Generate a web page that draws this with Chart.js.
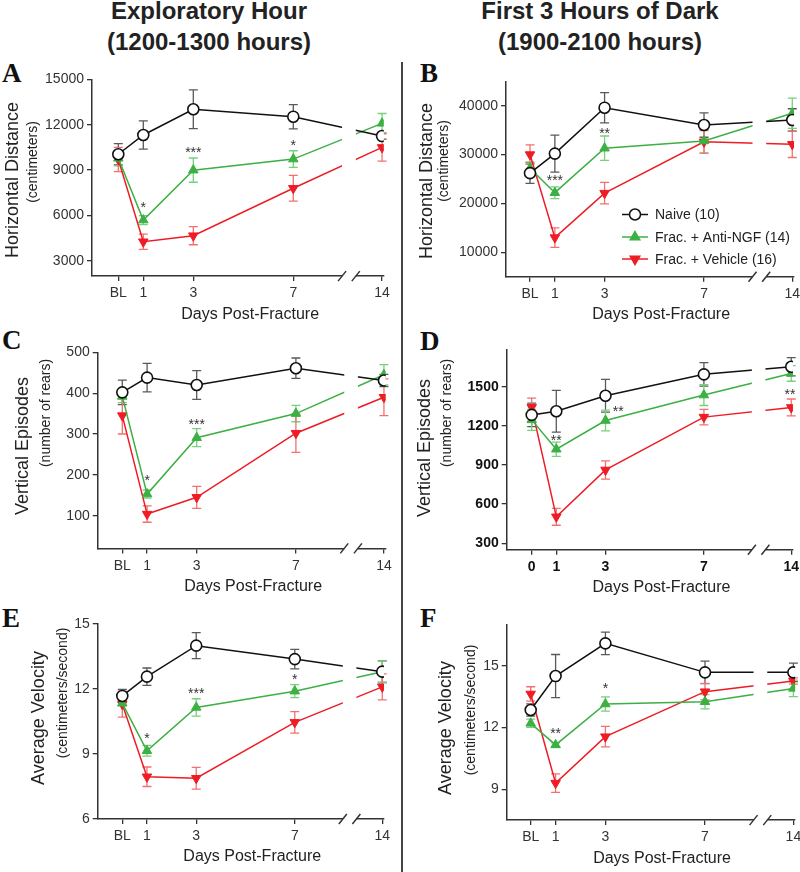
<!DOCTYPE html>
<html><head><meta charset="utf-8">
<script src="https://cdn.jsdelivr.net/npm/chart.js@4.4.1/dist/chart.umd.min.js"></script>
<style>
html,body{margin:0;padding:0;background:#fff;width:800px;height:872px;overflow:hidden;position:relative;font-family:"Liberation Sans",Arial,sans-serif;}
.hdr{position:absolute;top:-5px;width:400px;text-align:center;font-weight:bold;font-size:24px;line-height:31px;color:#222;}
.lt{position:absolute;font-family:"Liberation Serif","Times New Roman",serif;font-weight:bold;font-size:27px;line-height:27px;color:#111;}
canvas{position:absolute;}
#divider{position:absolute;left:401px;top:62px;width:1.5px;height:810px;background:#444;}
</style></head>
<body>
<div class="hdr" style="left:9px">Exploratory Hour<br>(1200-1300 hours)</div>
<div class="hdr" style="left:400px">First 3 Hours of Dark<br>(1900-2100 hours)</div>
<div id="divider"></div>
<div class="lt" style="left:2px;top:60px">A</div>
<div class="lt" style="left:420px;top:60px">B</div>
<div class="lt" style="left:2px;top:327px">C</div>
<div class="lt" style="left:420px;top:328px">D</div>
<div class="lt" style="left:2px;top:605px">E</div>
<div class="lt" style="left:420px;top:605px">F</div>
<script>
// ---------- shared x axis (days post-fracture, axis broken between 7 and 14) ----------
const X_POS = [0, 1, 3, 7, 10.55];          // 14 sits on the compressed part after the break
const X_LABELS = ['BL', '1', '3', '7', '14'];
const X_LABELS_D = ['0', '1', '3', '7', '14'];
const BREAK_FROM = 8.95, BREAK_TO = 9.5;
const SERIES_LABELS = ['Naive (10)', 'Frac. + Anti-NGF (14)', 'Frac. + Vehicle (16)'];

// ---------- A: Horizontal distance, exploratory hour ----------
const A_naive = [10050, 11320, 13020, 12530, 11250];
const A_naiveErr = [700, 930, 1280, 800, 200];
const A_anti = [9780, 5700, 9000, 9730, 12090];
const A_antiErr = [500, 300, 800, 550, 650];
const A_veh = [9700, 4270, 4670, 7800, 10500];
const A_vehErr = [800, 500, 600, 850, 900];
const A_yTicks = [3000, 6000, 9000, 12000, 15000];
const A_stars = [{x: 1, y: 6760, t: '*'}, {x: 3, y: 10394, t: '***'}, {x: 7, y: 10876, t: '*'}];

// ---------- B: Horizontal distance, first 3 h of dark ----------
const B_naive = [26200, 30200, 39600, 36050, 37080];
const B_naiveErr = [2100, 3800, 3100, 2500, 2300];
const B_anti = [27200, 22200, 31300, 32800, 38450];
const B_antiErr = [1300, 1200, 2500, 2500, 3100];
const B_veh = [30000, 13000, 22100, 32600, 32100];
const B_vehErr = [2000, 2000, 2200, 2300, 2700];
const B_yTicks = [10000, 20000, 30000, 40000];
const B_stars = [{x: 1, y: 25460, t: '***'}, {x: 3, y: 35020, t: '**'}];

// ---------- C: Vertical episodes, exploratory hour ----------
const C_naive = [402, 438, 420, 461, 431];
const C_naiveErr = [30, 35, 35, 25, 15];
const C_anti = [392, 153, 291, 350, 445];
const C_antiErr = [15, 10, 22, 20, 25];
const C_veh = [345, 104, 145, 302, 390];
const C_vehErr = [45, 20, 27, 47, 45];
const C_yTicks = [100, 200, 300, 400, 500];
const C_stars = [{x: 1, y: 195, t: '*'}, {x: 3, y: 333, t: '***'}];

// ---------- D: Vertical episodes, first 3 h of dark ----------
const D_naive = [1284, 1312, 1431, 1595, 1653];
const D_naiveErr = [90, 160, 125, 90, 70];
const D_anti = [1246, 1021, 1241, 1436, 1602];
const D_antiErr = [80, 55, 80, 80, 60];
const D_veh = [1342, 503, 862, 1267, 1341];
const D_vehErr = [70, 65, 70, 60, 65];
const D_yTicks = [300, 600, 900, 1200, 1500];
const D_stars = [{x: 1, y: 1112, t: '**'}, {x: 3.52, y: 1339, t: '**'}, {x: 10.5, y: 1467, t: '**'}];

// ---------- E: Average velocity, exploratory hour ----------
const E_naive = [11.68, 12.57, 14.0, 13.38, 12.8];
const E_naiveErr = [0.3, 0.4, 0.6, 0.45, 0.5];
const E_anti = [11.34, 9.15, 11.15, 11.9, 12.8];
const E_antiErr = [0.1, 0.25, 0.4, 0.3, 0.5];
const E_veh = [11.3, 7.95, 7.88, 10.46, 12.1];
const E_vehErr = [0.6, 0.45, 0.5, 0.5, 0.6];
const E_yTicks = [6, 9, 12, 15];
const E_stars = [{x: 1, y: 9.88, t: '*'}, {x: 3, y: 11.95, t: '***'}, {x: 7, y: 12.6, t: '*'}];

// ---------- F: Average velocity, first 3 h of dark ----------
const F_naive = [12.86, 14.51, 16.1, 14.69, 14.69];
const F_naiveErr = [0.3, 1.05, 0.55, 0.55, 0.45];
const F_anti = [12.21, 11.16, 13.15, 13.26, 13.91];
const F_antiErr = [0.2, 0.1, 0.35, 0.35, 0.4];
const F_veh = [13.64, 9.3, 11.56, 13.75, 14.27];
const F_vehErr = [0.35, 0.45, 0.5, 0.4, 0.15];
const F_yTicks = [9, 12, 15];
const F_stars = [{x: 1, y: 11.88, t: '**'}, {x: 3, y: 14.07, t: '*'}];

// ---------- styling ----------
const FONT = '"Liberation Sans", Arial, sans-serif';
const BLACK = '#111111', GREEN = '#3cb043', RED = '#ee1c24';
const ERR_BLACK = '#5a5a5a', ERR_GREEN = '#78cf7c', ERR_RED = '#f27070';
const AXIS = '#333333';

function buildDatasets(naive, naiveErr, anti, antiErr, veh, vehErr) {
  const pts = arr => X_POS.map((x, i) => ({x: x, y: arr[i]}));
  return [
    {label: SERIES_LABELS[0], data: pts(naive), errors: naiveErr, errorColor: ERR_BLACK,
     borderColor: BLACK, backgroundColor: '#ffffff', pointBorderColor: BLACK, pointBackgroundColor: '#ffffff',
     pointStyle: 'circle', pointRadius: 5.5, pointBorderWidth: 1.6, borderWidth: 1.5, order: 0},
    {label: SERIES_LABELS[1], data: pts(anti), errors: antiErr, errorColor: ERR_GREEN,
     borderColor: GREEN, backgroundColor: GREEN, pointBorderColor: GREEN, pointBackgroundColor: GREEN,
     pointStyle: 'triangle', pointRadius: 5.5, pointRotation: 0, pointBorderWidth: 1, borderWidth: 1.5, order: 1},
    {label: SERIES_LABELS[2], data: pts(veh), errors: vehErr, errorColor: ERR_RED,
     borderColor: RED, backgroundColor: RED, pointBorderColor: RED, pointBackgroundColor: RED,
     pointStyle: 'triangle', pointRadius: 5.5, pointRotation: 180, pointBorderWidth: 1, borderWidth: 1.5, order: 2}
  ];
}

function decorPlugin(cfg) {
  return {
    id: 'decor_' + cfg.id,
    beforeDatasetsDraw(chart) {
      const ctx = chart.ctx, ys = chart.scales.y;
      chart.data.datasets.forEach((ds, di) => {
        const meta = chart.getDatasetMeta(di);
        ctx.save();
        ctx.strokeStyle = ds.errorColor;
        ctx.lineWidth = 1.3;
        meta.data.forEach((el, j) => {
          const v = ds.data[j].y, e = ds.errors[j];
          const y1 = ys.getPixelForValue(v + e), y2 = ys.getPixelForValue(v - e);
          ctx.beginPath();
          ctx.moveTo(el.x, y1); ctx.lineTo(el.x, y2);
          ctx.moveTo(el.x - 4.5, y1); ctx.lineTo(el.x + 4.5, y1);
          ctx.moveTo(el.x - 4.5, y2); ctx.lineTo(el.x + 4.5, y2);
          ctx.stroke();
        });
        ctx.restore();
      });
    },
    afterDatasetsDraw(chart) {
      const ctx = chart.ctx, xs = chart.scales.x, ys = chart.scales.y, ca = chart.chartArea;
      // axis break
      const x1 = xs.getPixelForValue(BREAK_FROM), x2 = xs.getPixelForValue(BREAK_TO);
      ctx.save();
      ctx.fillStyle = '#ffffff';
      ctx.fillRect(x1, ca.top - 8, x2 - x1, ca.bottom - ca.top + 10);
      ctx.strokeStyle = AXIS; ctx.lineWidth = 1.5;
      [x1, x2].forEach(x => {
        ctx.beginPath(); ctx.moveTo(x - 4, ca.bottom + 5); ctx.lineTo(x + 4, ca.bottom - 5); ctx.stroke();
      });
      // significance asterisks
      ctx.fillStyle = '#333'; ctx.font = '14px ' + FONT;
      ctx.textAlign = 'center'; ctx.textBaseline = 'alphabetic';
      cfg.stars.forEach(s => {
        ctx.fillText(s.t, xs.getPixelForValue(s.x), ys.getPixelForValue(s.y) + 8);
      });
      // legend (panel B)
      if (cfg.legend) {
        const rowsY = [214.5, 237, 259].map(v => v - cfg.canvasTop);
        const lx0 = 622 - cfg.canvasLeft, lx1 = 648 - cfg.canvasLeft, tx = 655 - cfg.canvasLeft;
        chart.data.datasets.forEach((ds, i) => {
          const y = rowsY[i];
          ctx.strokeStyle = ds.borderColor; ctx.lineWidth = 1.5;
          ctx.beginPath(); ctx.moveTo(lx0, y); ctx.lineTo(lx1, y); ctx.stroke();
          ctx.fillStyle = ds.pointBackgroundColor; ctx.strokeStyle = ds.pointBorderColor;
          Chart.helpers.drawPoint(ctx, {pointStyle: ds.pointStyle, radius: ds.pointRadius,
            rotation: ds.pointRotation || 0, borderWidth: ds.pointBorderWidth}, (lx0 + lx1) / 2, y);
          ctx.fillStyle = '#222'; ctx.font = '14px ' + FONT;
          ctx.textAlign = 'left'; ctx.textBaseline = 'middle';
          ctx.fillText(ds.label, tx, y + 1);
        });
      }
      ctx.restore();
    },
    afterDraw(chart) {
      const ctx = chart.ctx, xs = chart.scales.x, ca = chart.chartArea;
      ctx.save();
      ctx.fillStyle = '#222';
      ctx.textAlign = 'center'; ctx.textBaseline = 'middle';
      // x title
      ctx.font = '16px ' + FONT;
      const xc = (xs.getPixelForValue(X_POS[0]) + xs.getPixelForValue(X_POS[X_POS.length - 1])) / 2;
      ctx.fillText('Days Post-Fracture', xc, ca.bottom + 38);
      // y titles
      const rot = (txt, px, py, size) => {
        ctx.save();
        ctx.translate(px - cfg.canvasLeft, py - cfg.canvasTop);
        ctx.rotate(-Math.PI / 2);
        ctx.font = size + 'px ' + FONT;
        ctx.fillText(txt, 0, 0);
        ctx.restore();
      };
      rot(cfg.yTitle, cfg.yTitlePos[0], cfg.yTitlePos[1], 18);
      rot(cfg.ySub, cfg.ySubPos[0], cfg.ySubPos[1], 14);
      ctx.restore();
    }
  };
}

function makePanel(cfg) {
  const xMin = -(cfg.BLx - cfg.L) / cfg.ppd, xMax = 10.62;
  const R = cfg.L + (xMax - xMin) * cfg.ppd;
  const canvasW = Math.round(R - cfg.canvasLeft + 12);
  const cv = document.createElement('canvas');
  cv.width = canvasW; cv.height = cfg.canvasH;
  cv.style.left = cfg.canvasLeft + 'px'; cv.style.top = cfg.canvasTop + 'px';
  cv.style.width = canvasW + 'px'; cv.style.height = cfg.canvasH + 'px';
  document.body.appendChild(cv);
  const tickFont = {size: 14, family: FONT, weight: cfg.bold ? 'bold' : 'normal'};
  const tickColor = cfg.bold ? '#111' : '#333';
  new Chart(cv, {
    type: 'line',
    data: {datasets: cfg.datasets},
    options: {
      responsive: false, animation: false, devicePixelRatio: 1,
      layout: {padding: {left: 0, bottom: 0, top: cfg.T - cfg.canvasTop, right: canvasW - (R - cfg.canvasLeft)}},
      plugins: {legend: {display: false}, tooltip: {enabled: false}},
      elements: {line: {tension: 0}},
      scales: {
        x: {
          type: 'linear', min: xMin, max: xMax,
          afterBuildTicks: s => { s.ticks = X_POS.map(v => ({value: v})); },
          afterFit: s => { s.height = cfg.canvasH - (cfg.B - cfg.canvasTop); },
          ticks: {autoSkip: false, maxRotation: 0, minRotation: 0, padding: 4, color: tickColor, font: tickFont,
                  callback: (v, i) => cfg.xLabels[i]},
          grid: {drawOnChartArea: false, drawTicks: true, tickLength: 5, color: AXIS, lineWidth: 1.3},
          border: {display: true, color: AXIS, width: 1.5}
        },
        y: {
          type: 'linear', min: cfg.yMin, max: cfg.yMax,
          afterBuildTicks: s => { s.ticks = cfg.yTicks.map(v => ({value: v})); },
          afterFit: s => { s.width = cfg.L - cfg.canvasLeft; },
          ticks: {padding: 3, color: tickColor, font: tickFont, callback: v => String(v)},
          grid: {drawOnChartArea: false, drawTicks: true, tickLength: 5, color: AXIS, lineWidth: 1.3},
          border: {display: true, color: AXIS, width: 1.5}
        }
      }
    },
    plugins: [decorPlugin(cfg)]
  });
}

const panels = [
  {id: 'A', canvasLeft: 0, canvasTop: 62, canvasH: 263, L: 92, T: 79.3, B: 276.1, BLx: 118.3, ppd: 25,
   yMin: 2000, yMax: 15000, yTicks: A_yTicks, xLabels: X_LABELS, stars: A_stars,
   datasets: buildDatasets(A_naive, A_naiveErr, A_anti, A_antiErr, A_veh, A_vehErr),
   yTitle: 'Horizontal Distance', ySub: '(centimeters)', yTitlePos: [13.5, 180], ySubPos: [33, 162]},
  {id: 'B', canvasLeft: 405, canvasTop: 62, canvasH: 263, L: 506, T: 81.3, B: 276.7, BLx: 530, ppd: 24.86,
   yMin: 5000, yMax: 45000, yTicks: B_yTicks, xLabels: X_LABELS, stars: B_stars, legend: true,
   datasets: buildDatasets(B_naive, B_naiveErr, B_anti, B_antiErr, B_veh, B_vehErr),
   yTitle: 'Horizontal Distance', ySub: '(centimeters)', yTitlePos: [427, 181], ySubPos: [444, 161]},
  {id: 'C', canvasLeft: 0, canvasTop: 328, canvasH: 267, L: 97.7, T: 352.3, B: 548.4, BLx: 122.3, ppd: 24.8,
   yMin: 20, yMax: 500, yTicks: C_yTicks, xLabels: X_LABELS, stars: C_stars,
   datasets: buildDatasets(C_naive, C_naiveErr, C_anti, C_antiErr, C_veh, C_vehErr),
   yTitle: 'Vertical Episodes', ySub: '(number of rears)', yTitlePos: [23, 446], ySubPos: [46, 413]},
  {id: 'D', canvasLeft: 405, canvasTop: 328, canvasH: 267, L: 506.7, T: 350.2, B: 549.8, BLx: 531.7, ppd: 24.6,
   yMin: 250, yMax: 1780, yTicks: D_yTicks, xLabels: X_LABELS_D, stars: D_stars, bold: true,
   datasets: buildDatasets(D_naive, D_naiveErr, D_anti, D_antiErr, D_veh, D_vehErr),
   yTitle: 'Vertical Episodes', ySub: '(number of rears)', yTitlePos: [425, 448], ySubPos: [447, 413]},
  {id: 'E', canvasLeft: 0, canvasTop: 598, canvasH: 274, L: 97.7, T: 624, B: 819, BLx: 122.3, ppd: 24.64,
   yMin: 6, yMax: 15, yTicks: E_yTicks, xLabels: X_LABELS, stars: E_stars,
   datasets: buildDatasets(E_naive, E_naiveErr, E_anti, E_antiErr, E_veh, E_vehErr),
   yTitle: 'Average Velocity', ySub: '(centimeters/second)', yTitlePos: [39, 718], ySubPos: [63, 693]},
  {id: 'F', canvasLeft: 405, canvasTop: 598, canvasH: 274, L: 506.7, T: 624.9, B: 820.1, BLx: 530.7, ppd: 24.9,
   yMin: 7.5, yMax: 17, yTicks: F_yTicks, xLabels: X_LABELS, stars: F_stars,
   datasets: buildDatasets(F_naive, F_naiveErr, F_anti, F_antiErr, F_veh, F_vehErr),
   yTitle: 'Average Velocity', ySub: '(centimeters/second)', yTitlePos: [446, 728], ySubPos: [471, 710]}
];
panels.forEach(makePanel);
</script>
</body></html>
